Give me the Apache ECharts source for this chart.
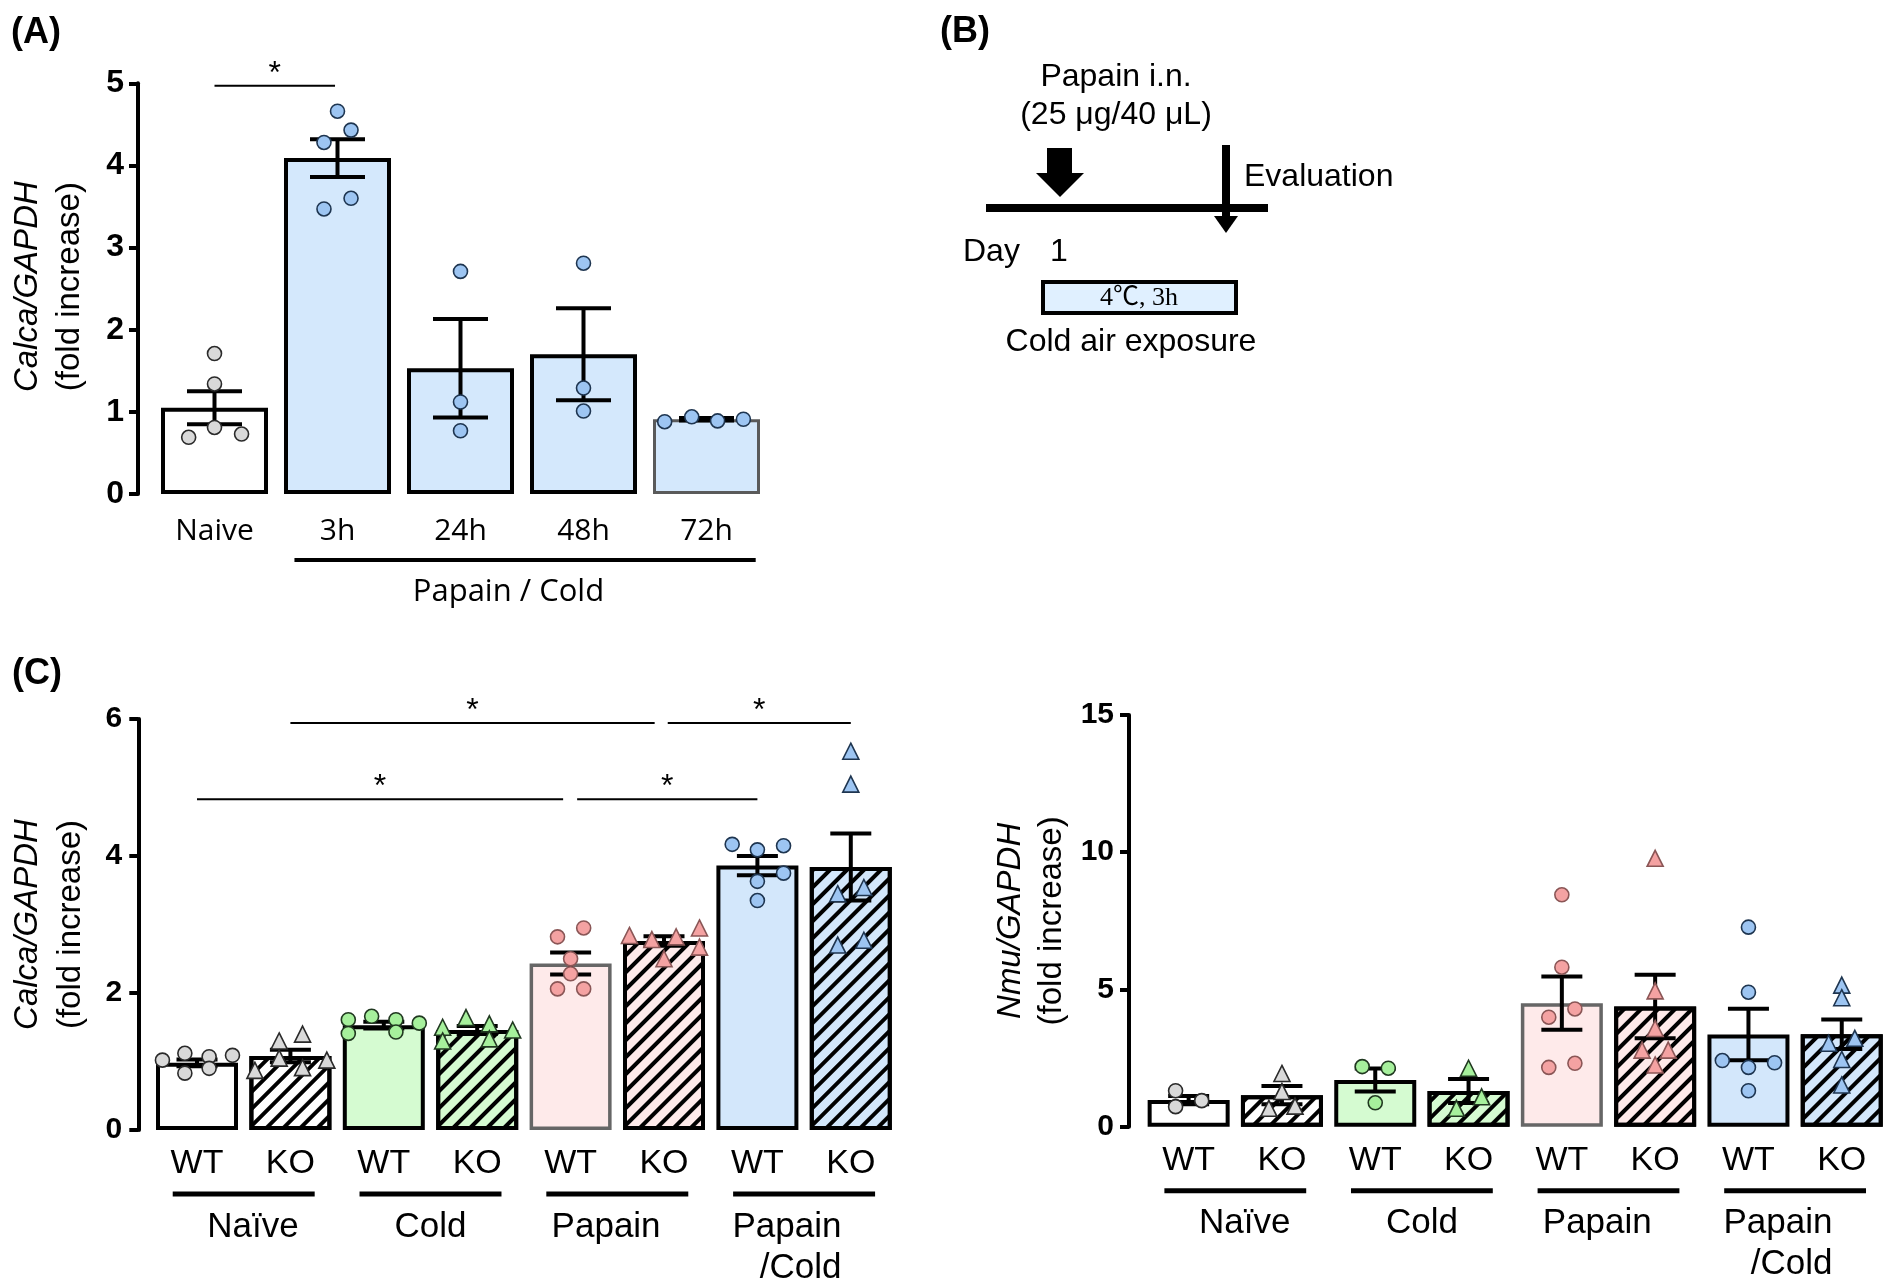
<!DOCTYPE html>
<html><head><meta charset="utf-8">
<script src="https://cdn.jsdelivr.net/npm/echarts@6/dist/echarts.min.js"></script>
<style>html,body{margin:0;padding:0;background:#fff}#c{width:1894px;height:1286px}</style>
</head><body><div id="c"></div>
<script>
// ---------- Panel A data ----------
const catsA = ['Naive', '3h', '24h', '48h', '72h'];
const meanA = [1.05, 4.09, 1.53, 1.70, 0.91];
const semA  = [0.20, 0.23, 0.60, 0.56, 0.015];
const ptsA  = [[1.71, 1.34, 0.81, 0.69, 0.73], [4.66, 4.43, 4.28, 3.60, 3.47], [2.71, 1.12, 0.77], [2.81, 1.29, 1.01], [0.88, 0.94, 0.89, 0.91]];
const jitA  = [[0, 0, 0, -0.21, 0.22], [0, 0.11, -0.11, 0.11, -0.11], [0, 0, 0], [0, 0, 0], [-0.34, -0.12, 0.09, 0.30]];
const sigA  = [[0, 0.98, 4.97]];
const yTicksA = [0, 5, 1];

// ---------- Panel C data ----------
const catsC   = ['WT', 'KO', 'WT', 'KO', 'WT', 'KO', 'WT', 'KO'];
const groupsC = ['Naïve', 'Cold', 'Papain', 'Papain\n/Cold'];
const meanCalca = [0.98, 1.08, 1.53, 1.46, 2.43, 2.76, 3.86, 3.84];
const semCalca  = [0.05, 0.09, 0.05, 0.06, 0.16, 0.07, 0.14, 0.49];
const ptsCalca = [
  [1.02, 1.12, 0.83, 1.07, 0.90, 1.09],
  [0.87, 1.30, 1.05, 1.40, 0.91, 1.02],
  [1.61, 1.41, 1.66, 1.61, 1.43, 1.56],
  [1.50, 1.30, 1.64, 1.55, 1.33, 1.46],
  [2.82, 2.95, 2.50, 2.28, 2.06, 2.06],
  [2.84, 2.78, 2.50, 2.82, 2.95, 2.67],
  [4.17, 4.09, 4.15, 3.75, 3.63, 3.35],
  [5.53, 5.05, 3.45, 3.54, 2.70, 2.77]
];
const jitCalca = [
  [-0.37, -0.13, -0.13, 0.13, 0.13, 0.38],
  [-0.38, -0.12, -0.12, 0.13, 0.13, 0.39],
  [-0.38, -0.38, -0.13, 0.13, 0.13, 0.38],
  [-0.37, -0.37, -0.12, 0.13, 0.13, 0.38],
  [-0.14, 0.14, 0, 0, -0.14, 0.14],
  [-0.37, -0.13, 0, 0.13, 0.38, 0.38],
  [-0.27, 0, 0.28, 0.28, 0, 0],
  [0, 0, -0.14, 0.14, -0.14, 0.14]
];
const sigCalca = [[1.0, 4.9, 5.94], [5.04, 7.0, 5.94], [0.0, 3.92, 4.83], [4.07, 6.0, 4.83]];
const yTicksCalca = [0, 6, 2];

const meanNmu = [0.97, 1.15, 1.70, 1.30, 4.50, 4.38, 3.36, 3.37];
const semNmu  = [0.15, 0.33, 0.42, 0.44, 0.97, 1.16, 0.94, 0.54];
const ptsNmu = [
  [1.31, 0.73, 0.95],
  [1.94, 1.28, 0.67, 0.75],
  [2.19, 2.13, 0.87],
  [2.13, 0.67, 1.09],
  [8.45, 5.81, 3.99, 4.29, 2.16, 2.31],
  [9.78, 4.95, 3.58, 2.79, 2.79, 2.25],
  [7.27, 4.90, 2.41, 2.16, 2.33, 1.31],
  [5.16, 4.70, 3.04, 3.22, 2.45, 1.52]
];
const jitNmu = [
  [-0.14, -0.14, 0.14],
  [0, 0, -0.14, 0.14],
  [-0.14, 0.14, 0],
  [0, -0.13, 0.14],
  [0, 0, -0.14, 0.14, -0.14, 0.14],
  [0, 0, 0, -0.14, 0.14, 0],
  [0, 0, -0.28, 0, 0.28, 0],
  [0, 0, -0.14, 0.14, 0, 0]
];
const yTicksNmu = [0, 15, 5];

// ---------- styles ----------
const SANS = "'Liberation Sans', Arial, sans-serif";
const OPEN = "'Open Sans', 'Liberation Sans', sans-serif";
const fillA = ['#ffffff', '#d4e8fc', '#d4e8fc', '#d4e8fc', '#d4e8fc'];
const bordA = ['#000', '#000', '#000', '#000', '#5a5a5a'];
const bwA   = [4, 4, 4, 4, 3];
const ptA   = ['#d9d9d9', '#9dc5f2', '#9dc5f2', '#9dc5f2', '#9dc5f2'];
const ptBA  = ['#2a2a2a', '#1e3550', '#1e3550', '#1e3550', '#1e3550'];

const fillC = ['#ffffff', '#ffffff', '#d5fbd1', '#d5fbd1', '#feeaea', '#feeaea', '#d3e7fb', '#d3e7fb'];
const bordC = ['#000', '#000', '#000', '#000', '#666', '#000', '#000', '#000'];
const bwC   = [4, 4, 4, 4, 3.5, 4, 4, 4];
const ptC   = ['#d9d9d9', '#d9d9d9', '#a6f09c', '#a6f09c', '#f4a2a2', '#f4a2a2', '#9dc5f2', '#9dc5f2'];
const ptBC  = ['#2a2a2a', '#2a2a2a', '#203820', '#203820', '#8a5656', '#8a5656', '#1e3550', '#1e3550'];
const hatch = { symbol: 'rect', symbolSize: 1, dashArrayX: [1, 0], dashArrayY: [4, 8], rotation: -Math.PI / 4, color: '#000' };

// ---------- helpers ----------
function barSeries(xi, yi, means, fill, bord, bw, width, hatched) {
  return {
    type: 'bar', xAxisIndex: xi, yAxisIndex: yi, barWidth: width, z: 2, silent: true,
    data: means.map((m, i) => {
      const st = { color: fill[i], borderColor: bord[i], borderWidth: bw[i] };
      if (hatched && i % 2 === 1) st.decal = hatch;
      return { value: m, itemStyle: st };
    })
  };
}
function errSeries(xi, yi, means, sems, cap) {
  return {
    type: 'custom', xAxisIndex: xi, yAxisIndex: yi, z: 3, silent: true,
    encode: { x: 0, y: 1 },
    data: means.map((m, i) => [i, m, sems[i]]),
    renderItem(params, api) {
      const i = api.value(0), m = api.value(1), e = api.value(2);
      const t = api.coord([i, m + e]), b = api.coord([i, m - e]);
      const h = cap / 2, st = { stroke: '#000', lineWidth: 4 };
      return { type: 'group', children: [
        { type: 'line', shape: { x1: t[0], y1: t[1], x2: b[0], y2: b[1] }, style: st },
        { type: 'line', shape: { x1: t[0] - h, y1: t[1], x2: t[0] + h, y2: t[1] }, style: st },
        { type: 'line', shape: { x1: b[0] - h, y1: b[1], x2: b[0] + h, y2: b[1] }, style: st }
      ] };
    }
  };
}
function ptSeries(xv, yi, pts, jit, g, symbol, size, color, border) {
  return {
    type: 'scatter', xAxisIndex: xv, yAxisIndex: yi, z: 4, silent: true,
    symbol: symbol, symbolSize: size,
    data: pts[g].map((v, k) => [g + jit[g][k], v]),
    itemStyle: { color: color, borderColor: border, borderWidth: 1.6, opacity: 1 }
  };
}
function sigSeries(xv, yi, sig) {
  return {
    type: 'custom', xAxisIndex: xv, yAxisIndex: yi, z: 5, silent: true, clip: false,
    encode: { x: [0, 1], y: 2 },
    data: sig,
    renderItem(params, api) {
      const a = api.coord([api.value(0), api.value(2)]);
      const b = api.coord([api.value(1), api.value(2)]);
      return { type: 'group', children: [
        { type: 'line', shape: { x1: a[0], y1: a[1], x2: b[0], y2: a[1] }, style: { stroke: '#000', lineWidth: 2 } },
        { type: 'text', style: { text: '*', x: (a[0] + b[0]) / 2, y: a[1] - 12, font: '32px ' + SANS, fill: '#000', align: 'center', verticalAlign: 'middle' } }
      ] };
    }
  };
}
function yAxisDef(gi, ticks, offset, fs, margin) {
  return {
    type: 'value', gridIndex: gi, min: ticks[0], max: ticks[1], interval: ticks[2], offset: offset,
    axisLine: { show: true, onZero: false, lineStyle: { color: '#000', width: 4 } },
    axisTick: { show: true, length: 9, lineStyle: { color: '#000', width: 4 } },
    axisLabel: { color: '#000', fontFamily: SANS, fontWeight: 'bold', fontSize: fs, margin: margin },
    splitLine: { show: false }
  };
}
function catAxis(gi, cats, font, fs, margin) {
  return {
    type: 'category', gridIndex: gi, data: cats,
    axisLine: { show: false, onZero: false }, axisTick: { show: false },
    axisLabel: { color: '#000', fontFamily: font, fontSize: fs, margin: margin, interval: 0 }
  };
}
function valXAxis(gi, n) {
  return { type: 'value', gridIndex: gi, min: -0.5, max: n - 0.5, show: false, axisLine: { onZero: false } };
}

const series = [];
// Panel A
series.push(barSeries(0, 0, meanA, fillA, bordA, bwA, 107, false));
series.push(errSeries(0, 0, meanA, semA, 55));
catsA.forEach((c, g) => series.push(ptSeries(1, 0, ptsA, jitA, g, 'circle', 14, ptA[g], ptBA[g])));
series.push(sigSeries(1, 0, sigA));
// Panel C left
series.push(barSeries(2, 1, meanCalca, fillC, bordC, bwC, 82, true));
series.push(errSeries(2, 1, meanCalca, semCalca, 41));
catsC.forEach((c, g) => series.push(ptSeries(3, 1, ptsCalca, jitCalca, g, g % 2 ? 'triangle' : 'circle', g % 2 ? 16 : 14, ptC[g], ptBC[g])));
series.push(sigSeries(3, 1, sigCalca));
// Panel C right
series.push(barSeries(4, 2, meanNmu, fillC, bordC, bwC, 82, true));
series.push(errSeries(4, 2, meanNmu, semNmu, 41));
catsC.forEach((c, g) => series.push(ptSeries(5, 2, ptsNmu, jitNmu, g, g % 2 ? 'triangle' : 'circle', g % 2 ? 16 : 14, ptC[g], ptBC[g])));

const chart = echarts.init(document.getElementById('c'), null, { renderer: 'canvas' });
chart.setOption({
  animation: false,
  backgroundColor: '#fff',
  grid: [
    { left: 153, top: 83.3, width: 615, height: 410.7 },
    { left: 150.3, top: 719, width: 747.2, height: 411 },
    { left: 1142, top: 715, width: 746.4, height: 411.7 }
  ],
  xAxis: [
    catAxis(0, catsA, OPEN, 30, 22), valXAxis(0, catsA.length),
    catAxis(1, catsC, SANS, 34, 17), valXAxis(1, catsC.length),
    catAxis(2, catsC, SANS, 34, 17), valXAxis(2, catsC.length)
  ],
  yAxis: [
    yAxisDef(0, yTicksA, 15, 32, 14),
    yAxisDef(1, yTicksCalca, 12, 30, 16),
    yAxisDef(2, yTicksNmu, 13, 30, 15)
  ],
  series: series
});

// ---------- annotations positioned from the axes ----------
const G = [];
function txt(x, y, text, font, opts) {
  G.push(Object.assign({ type: 'text', x: x, y: y, silent: true,
    style: Object.assign({ text: text, font: font, fill: '#000', align: 'center', verticalAlign: 'middle' }, opts && opts.style || {}) },
    opts && opts.el || {}));
}
function line(x1, y1, x2, y2, w) {
  G.push({ type: 'line', silent: true, shape: { x1, y1, x2, y2 }, style: { stroke: '#000', lineWidth: w } });
}
const px = (ax, v) => chart.convertToPixel({ xAxisIndex: ax }, v);
const py = (ax, v) => chart.convertToPixel({ yAxisIndex: ax }, v);

// Panel labels
txt(11, 33, '(A)', 'bold 36px ' + SANS, { style: { align: 'left' } });
txt(940, 32, '(B)', 'bold 36px ' + SANS, { style: { align: 'left' } });
txt(12, 674, '(C)', 'bold 36px ' + SANS, { style: { align: 'left' } });

// Y titles
const rot = { el: { rotation: Math.PI / 2 } };
txt(28, (py(0, 0) + py(0, 5)) / 2 - 2, 'Calca/GAPDH', 'italic 33px ' + SANS, rot);
txt(70, (py(0, 0) + py(0, 5)) / 2 - 2, '(fold increase)', '33px ' + SANS, rot);
txt(28, (py(1, 0) + py(1, 6)) / 2, 'Calca/GAPDH', 'italic 33px ' + SANS, rot);
txt(71, (py(1, 0) + py(1, 6)) / 2, '(fold increase)', '33px ' + SANS, rot);
txt(1011, (py(2, 0) + py(2, 15)) / 2, 'Nmu/GAPDH', 'italic 33px ' + SANS, rot);
txt(1052, (py(2, 0) + py(2, 15)) / 2, '(fold increase)', '33px ' + SANS, rot);

// Panel A group line
{
  const band = px(0, 1) - px(0, 0);
  const y0 = py(0, 0);
  line(px(0, 1) - 0.35 * band, y0 + 66, px(0, 4) + 0.4 * band, y0 + 66, 4);
  txt((px(0, 1) + px(0, 4)) / 2 - 0.11 * band, y0 + 98, 'Papain / Cold', '31px ' + OPEN);
}
// Panel C group lines
const labOff = [0.1, 0, -0.12, 0.4];
[[2, 1], [4, 2]].forEach(([ax, yax]) => {
  const band = px(ax, 1) - px(ax, 0);
  const y0 = py(yax, 0);
  groupsC.forEach((name, g) => {
    const a = px(ax, 2 * g), b = px(ax, 2 * g + 1);
    line(a - 0.26 * band, y0 + 64, b + 0.26 * band, y0 + 64, 5);
    const cx = (a + b) / 2 + labOff[g] * band;
    if (g === 3) {
      txt(cx, y0 + 97, 'Papain', '35px ' + SANS, { style: { align: 'right' } });
      txt(cx, y0 + 138, '/Cold', '35px ' + SANS, { style: { align: 'right' } });
    } else {
      txt(cx, y0 + 97, name, '35px ' + SANS);
    }
  });
});

// Panel B diagram
txt(1116, 77, 'Papain i.n.', '32px ' + SANS);
txt(1116, 115, '(25 μg/40 μL)', '32px ' + SANS);
G.push({ type: 'polygon', silent: true, shape: { points: [[1047, 148], [1072, 148], [1072, 173], [1084, 173], [1060, 197], [1036, 173], [1047, 173]] }, style: { fill: '#000' } });
line(986, 208, 1268, 208, 8);
line(1226, 145, 1226, 220, 8);
G.push({ type: 'polygon', silent: true, shape: { points: [[1214, 216], [1238, 216], [1226, 233]] }, style: { fill: '#000' } });
txt(1244, 177, 'Evaluation', '32px ' + SANS, { style: { align: 'left' } });
txt(963, 252, 'Day', '32px ' + SANS, { style: { align: 'left' } });
txt(1059, 252, '1', '32px ' + SANS);
G.push({ type: 'rect', silent: true, shape: { x: 1043, y: 282, width: 193, height: 31 }, style: { fill: '#e0f0ff', stroke: '#000', lineWidth: 4 } });
txt(1139, 298, '4℃, 3h', "26px 'Liberation Serif', 'Noto Sans CJK JP', serif");
txt(1131, 342, 'Cold air exposure', '32px ' + SANS);

chart.setOption({ graphic: { elements: G } });
</script>
</body></html>
